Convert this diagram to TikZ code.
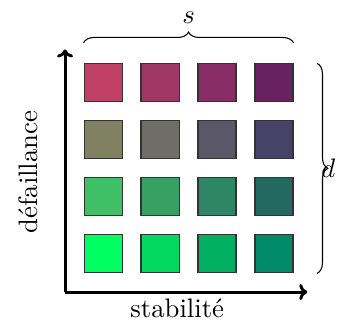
\documentclass[tikz,border=0pt]{standalone}
\usepackage{xcolor}
\usepackage{tikz}
\usetikzlibrary{positioning,arrows.meta,decorations.pathreplacing}

\definecolor{c11}{RGB}{192,64,102}
\definecolor{c12}{RGB}{160,56,102}
\definecolor{c13}{RGB}{136,44,102}
\definecolor{c14}{RGB}{104,34,98}
\definecolor{c21}{RGB}{128,128,98}
\definecolor{c22}{RGB}{110,110,102}
\definecolor{c23}{RGB}{90,88,104}
\definecolor{c24}{RGB}{70,66,104}
\definecolor{c31}{RGB}{64,192,102}
\definecolor{c32}{RGB}{56,160,98}
\definecolor{c33}{RGB}{46,134,102}
\definecolor{c34}{RGB}{36,104,98}
\definecolor{c41}{RGB}{0,255,96}
\definecolor{c42}{RGB}{0,216,96}
\definecolor{c43}{RGB}{0,176,96}
\definecolor{c44}{RGB}{0,138,104}

\begin{document}
\begin{tikzpicture}[node distance=0.235cm,
    cell/.style={rectangle, draw=black!80, thin, minimum size=0.5cm, inner sep=0pt},
    axis/.style={-{To[length=3pt,width=6pt]}, line width=1.1pt},
    brace/.style={decorate, decoration={brace, amplitude=4pt}}
]
\useasboundingbox (0,0) rectangle (4.47,4.25);

% grille des couleurs
\node[cell, fill=c11] (a11) at (1.355,3.16) {};
\node[cell, fill=c12, right=of a11] (a12) {};
\node[cell, fill=c13, right=of a12] (a13) {};
\node[cell, fill=c14, right=of a13] (a14) {};
\node[cell, fill=c21, below=of a11] (a21) {};
\node[cell, fill=c22, right=of a21] (a22) {};
\node[cell, fill=c23, right=of a22] (a23) {};
\node[cell, fill=c24, right=of a23] (a24) {};
\node[cell, fill=c31, below=of a21] (a31) {};
\node[cell, fill=c32, right=of a31] (a32) {};
\node[cell, fill=c33, right=of a32] (a33) {};
\node[cell, fill=c34, right=of a33] (a34) {};
\node[cell, fill=c41, below=of a31] (a41) {};
\node[cell, fill=c42, right=of a41] (a42) {};
\node[cell, fill=c43, right=of a42] (a43) {};
\node[cell, fill=c44, right=of a43] (a44) {};

% axes
\coordinate (origin) at (0.855,0.41);
\coordinate (ytop) at (0.855,3.6);
\coordinate (xend) at (4.04,0.41);
\draw[axis] (origin) -- (ytop);
\draw[axis] (origin) -- (xend);
\node[rotate=90] (ylabel) at (0.37,1.99) {défaillance};
\node (xlabel) at (2.33,0.2) {stabilité};

% accolades
\draw[brace, decoration={raise=0.27cm}] (a11.north west) -- node[above=0.4cm] (s) {$s$} (a14.north east);
\draw[brace, decoration={raise=0.31cm}] (a14.north east) -- node[right=0.36cm, inner sep=0pt] (d) {$d$} (a44.south east);

\end{tikzpicture}
\end{document}
